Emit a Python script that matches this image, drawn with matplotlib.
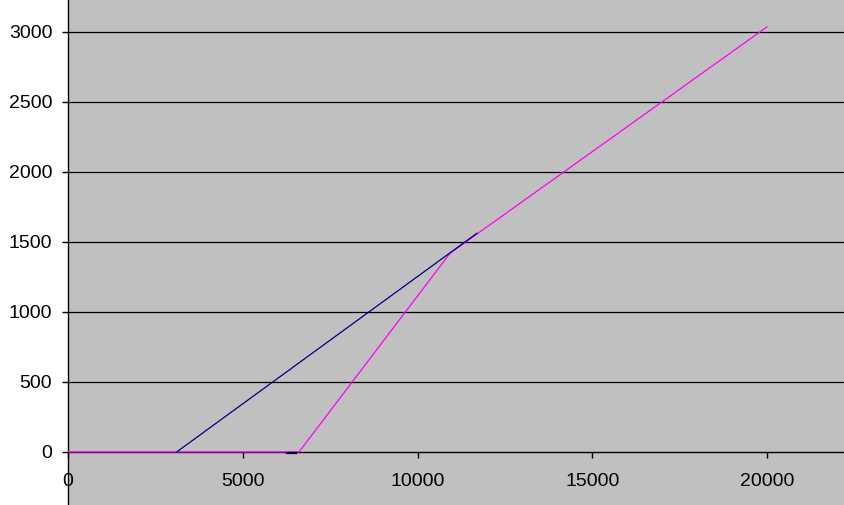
import matplotlib
matplotlib.use("Agg")
import matplotlib.pyplot as plt

# series
blue_x = [3110, 11700]
blue_y = [0, 1562]

magenta_x = [0, 6260, 6610, 10930, 20000]
magenta_y = [0, 0, 0, 1419, 3036]

# short dark step near the magenta knee
step_x = [6260, 6510]
step_y = [-6, -6]

x_ticks = [0, 5000, 10000, 15000, 20000]
y_ticks = [0, 500, 1000, 1500, 2000, 2500, 3000]

plt.rcParams["font.family"] = ["Liberation Sans", "DejaVu Sans"]

fig = plt.figure(figsize=(8.44, 5.05), dpi=100)
ax = fig.add_axes([68 / 844, 0, 1 - 68 / 844, 1])
ax.set_facecolor("#C0C0C0")

ax.set_xlim(0, 22203)
ax.set_ylim(-379, 3228)

for y in y_ticks[1:]:
    ax.axhline(y, color="black", lw=0.9, zorder=1)

ax.plot(magenta_x, magenta_y, color="#FF00FF", lw=0.9, zorder=3)
ax.plot(blue_x, blue_y, color="#000080", lw=0.9, zorder=4)
ax.plot(step_x, step_y, color="#000040", lw=1.6, zorder=5)

ax.spines["top"].set_visible(False)
ax.spines["right"].set_visible(False)
ax.spines["bottom"].set_position(("data", 0))
ax.spines["left"].set_linewidth(1.0)
ax.spines["bottom"].set_linewidth(1.0)

ax.set_xticks(x_ticks)
ax.set_yticks(y_ticks)
ax.tick_params(axis="both", labelsize=14, length=4.3, width=1.0, direction="out")
ax.tick_params(axis="y", pad=7)
ax.tick_params(axis="x", pad=11)

fig.savefig("out.png", dpi=100)
